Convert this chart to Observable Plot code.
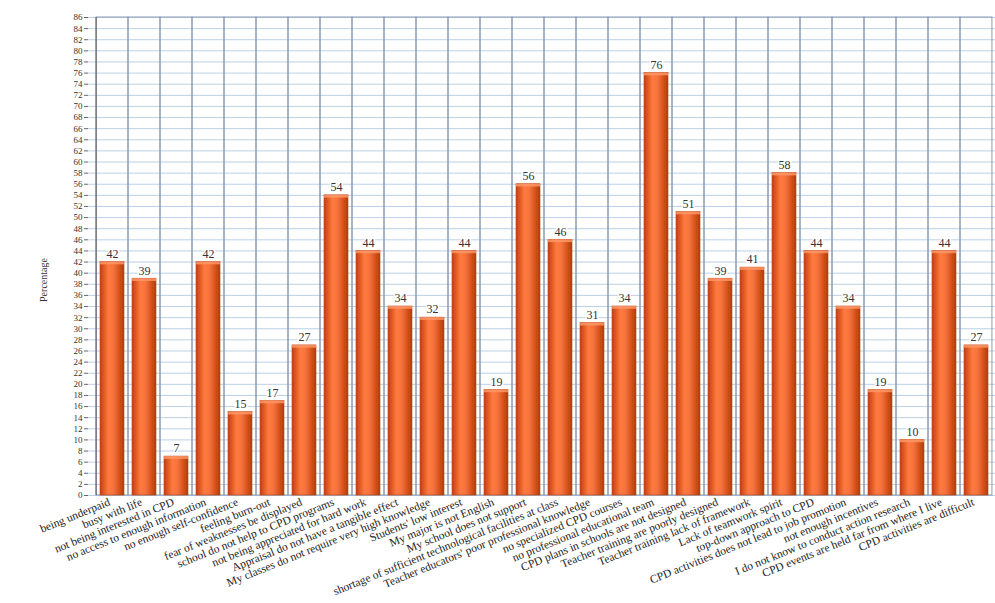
<!DOCTYPE html>
<html>
<head>
<meta charset="utf-8">
<script src="https://cdn.jsdelivr.net/npm/d3@7"></script>
<script src="https://cdn.jsdelivr.net/npm/@observablehq/plot@0.6"></script>
<style>
  html, body { margin: 0; padding: 0; background: #fff; overflow: hidden; width: 995px; height: 603px; }
  #chart svg { overflow: hidden; }
</style>
</head>
<body>
<div id="chart"></div>
<script>
const categories = [
  "being underpaid",
  "busy with life",
  "not being interested in CPD",
  "no access to enough information",
  "no enough self-confidence",
  "feeling burn-out",
  "fear of weaknesses be displayed",
  "school do not help to CPD programs",
  "not being appreciated for hard work",
  "Appraisal do not have a tangible effect",
  "My classes do not require very high knowledge",
  "Students' low interest",
  "My major is not English",
  "My school does not support",
  "shortage of sufficient technological facilities at class",
  "Teacher educators' poor professional knowledge",
  "no specialized CPD courses",
  "no professional educational team",
  "CPD plans in schools are not designed",
  "Teacher training are poorly designed",
  "Teacher training lack of framework",
  "Lack of teamwork spirit",
  "top-down approach to CPD",
  "CPD activities does not lead to job promotion",
  "not enough incentives",
  "I do not know to conduct action research",
  "CPD events are held far from where I live",
  "CPD activities are difficult"
];
const values = [42, 39, 7, 42, 15, 17, 27, 54, 44, 34, 32, 44, 19, 56, 46, 31, 34, 76, 51, 39, 41, 58, 44, 34, 19, 10, 44, 27];
const yTicks = [0,2,4,6,8,10,12,14,16,18,20,22,24,26,28,30,32,34,36,38,40,42,44,46,48,50,52,54,56,58,60,62,64,66,68,70,72,74,76,78,80,82,84,86];
const yLabel = "Percentage";

const data = categories.map((c, i) => ({category: c, value: values[i]}));
const yMax = yTicks[yTicks.length - 1];

const serif = "'Liberation Serif', 'DejaVu Serif', serif";

const chart = Plot.plot({
  width: 995,
  height: 603,
  marginLeft: 88,
  marginRight: 0,
  marginTop: 17,
  marginBottom: 108,
  style: {fontFamily: serif, background: "#fff"},
  x: {domain: categories, range: [86, 1002], paddingInner: 0.24, paddingOuter: 0.12, axis: null},
  y: {domain: [0, yMax], axis: null},
  marks: [
    // horizontal grid
    Plot.ruleY(yTicks, {stroke: "#bcd0e6", strokeWidth: 1}),
    // vertical grid at band boundaries
    Plot.barY(data, {x: "category", y1: 0, y2: yMax, fill: "none", stroke: "#8a9bb3", strokeWidth: 1, insetLeft: -3.93, insetRight: -3.93}),
    // bars
    Plot.barY(data, {x: "category", y: "value", fill: "url(#cyl)", stroke: "#b8400f", strokeWidth: 0.6}),
    // bar top highlight
    Plot.barY(data, {x: "category", y1: "value", y2: d => d.value - 0.5, fill: "#ff9a6a", fillOpacity: 0.8}),
    // value labels
    Plot.text(data, {x: "category", y: "value", text: d => String(d.value), dy: -8, fontSize: 12, fill: "#333", stroke: "white", strokeWidth: 3, fontFamily: serif}),
    // y axis line
    Plot.ruleX([0], {x: () => categories[0], dx: -16.4, y1: 0, y2: yMax, stroke: "#555", strokeWidth: 1}),
    // y axis
    Plot.axisY(yTicks, {ticks: yTicks, tickSize: 4, tickPadding: 2, fontSize: 9, stroke: "#666", fill: "#333", fontFamily: serif, label: null}),
    // category labels
    Plot.axisX({tickSize: 0, tickRotate: -22, fontSize: 11.5, fill: "#222", fontFamily: serif, label: null, tickPadding: 6, dx: -3})
  ]
});

// gradient for cylindrical bars
const svg = d3.select(chart);
const defs = svg.insert("defs", ":first-child");
const g = defs.append("linearGradient").attr("id", "cyl").attr("x1", "0").attr("x2", "1").attr("y1", "0").attr("y2", "0");
g.append("stop").attr("offset", "0%").attr("stop-color", "#c2400c");
g.append("stop").attr("offset", "35%").attr("stop-color", "#ff7a40");
g.append("stop").attr("offset", "55%").attr("stop-color", "#f8743c");
g.append("stop").attr("offset", "100%").attr("stop-color", "#b63a0a");

// y axis title
svg.append("text")
  .attr("transform", "translate(47,280) rotate(-90)")
  .attr("text-anchor", "middle")
  .attr("font-family", serif)
  .attr("font-size", 10)
  .attr("fill", "#333")
  .text(yLabel);

document.getElementById("chart").appendChild(chart);
</script>
</body>
</html>
